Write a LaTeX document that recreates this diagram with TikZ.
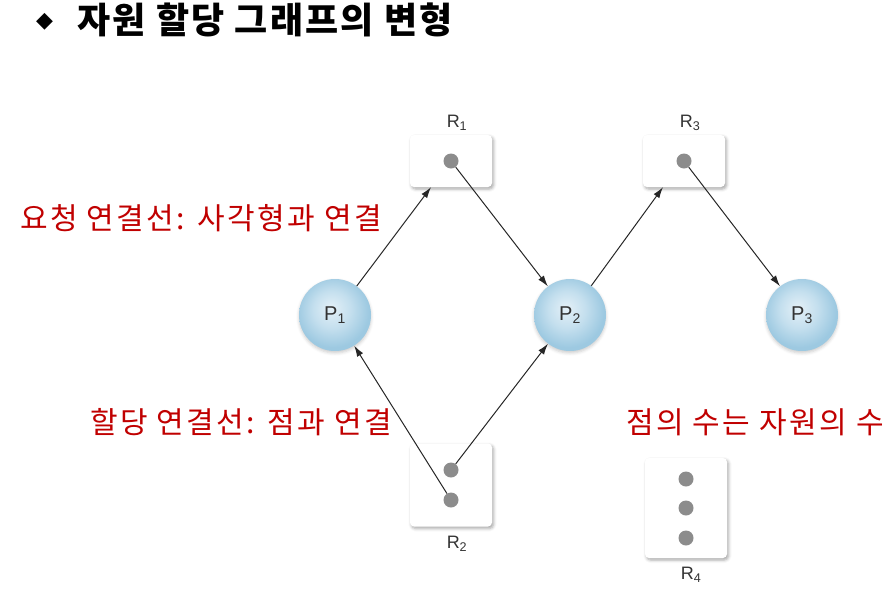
\documentclass[tikz,border=0pt]{standalone}
\usepackage{fontspec}
\setmainfont{Liberation Sans}
\newfontfamily\kofont{Noto Sans CJK KR}
\newfontfamily\kowide{Noto Sans CJK KR}[LetterSpace=8]
\newfontfamily\kotitle{Noto Sans CJK KR}[LetterSpace=6]
\newfontfamily\symfont{DejaVu Sans}
\usetikzlibrary{arrows.meta, positioning, shadows, shadows.blur}
\definecolor{notered}{HTML}{C00000}
\definecolor{ballin}{HTML}{E4F0F7}
\definecolor{ballmid}{HTML}{C4DFEE}
\definecolor{ballout}{HTML}{9DC9E1}
\definecolor{dotgray}{HTML}{8C8C8C}
\definecolor{linedark}{HTML}{262626}
\definecolor{labelgray}{HTML}{333333}
\pgfdeclareradialshading{procball}{\pgfpoint{-3bp}{5bp}}{color(0bp)=(ballin); color(13bp)=(ballmid); color(25bp)=(ballout); color(50bp)=(ballout)}
\tikzset{
  resbox/.style={fill=white, rounded corners=4pt, minimum width=82pt,
    blur shadow={shadow xshift=1.5pt, shadow yshift=-2pt, shadow blur radius=3pt, shadow opacity=35}},
  proc/.style={circle, minimum size=72pt, shading=procball, text=labelgray, font=\fontsize{20}{22}\selectfont,
    blur shadow={shadow xshift=0pt, shadow yshift=-2pt, shadow blur radius=3pt, shadow opacity=20}},
  inst/.style={circle, fill=dotgray, minimum size=15pt, inner sep=0pt},
  reslabel/.style={text=labelgray, font=\fontsize{18}{20}\selectfont, inner sep=1pt},
  note/.style={text=notered, anchor=west, inner sep=0pt, font=\kowide\fontsize{30}{32}\selectfont},
  flow/.style={draw=linedark, line width=1pt, -{Latex[length=11pt,width=7pt]}}
}

\begin{document}
\begin{tikzpicture}[x=1pt, y=-1pt]
    \useasboundingbox (0,0) rectangle (892,595);
    % title
    \node[anchor=west, inner sep=0pt, font=\symfont\fontsize{22}{24}\selectfont] (bullet) at (36,22) {◆};
    \node[anchor=west, inner sep=0pt, font=\kotitle\bfseries\fontsize{36}{38}\selectfont] (title) at (77,20) {자원 할당 그래프의 변형};
    % resources
    \node[resbox, minimum height=52pt] (r1) at (451,161) {};
    \node[inst] (r1a) at (r1.center) {};
    \node[reslabel, above=3pt of r1, xshift=6pt] (r1l) {R\textsubscript{1}};
    \node[resbox, minimum height=52pt] (r3) at (684,161) {};
    \node[inst] (r3a) at (r3.center) {};
    \node[reslabel, above=3pt of r3, xshift=6pt] (r3l) {R\textsubscript{3}};
    \node[resbox, minimum height=83pt] (r2) at (451,485) {};
    \node[inst] (r2a) at (451,470) {};
    \node[inst] (r2b) at (451,500) {};
    \node[reslabel, below=8pt of r2, xshift=6pt] (r2l) {R\textsubscript{2}};
    \node[resbox, minimum height=100pt] (r4) at (686,508) {};
    \node[inst] (r4a) at (686,479) {};
    \node[inst] (r4b) at (686,508) {};
    \node[inst] (r4c) at (686,538) {};
    \node[reslabel, below=8pt of r4, xshift=5pt] (r4l) {R\textsubscript{4}};
    % processes
    \node[proc] (p1) at (335,315) {P\textsubscript{1}};
    \node[proc] (p2) at (570,315) {P\textsubscript{2}};
    \node[proc] (p3) at (802,315) {P\textsubscript{3}};
    % edges
    \draw[flow] (p1) -- ([xshift=-20pt]r1.south);
    \draw[flow] (r1a) -- (p2);
    \draw[flow] (p2) -- ([xshift=-21pt]r3.south);
    \draw[flow] (r3a) -- (p3);
    \draw[flow] (r2b) -- (p1);
    \draw[flow] (r2a) -- (p2);
    % notes
    \node[note] (req) at (20,218) {요청 연결선: 사각형과 연결};
    \node[note] (asg) at (90,422) {할당 연결선: 점과 연결};
    \node[note] (cnt) at (626,422) {점의 수는 자원의 수};
\end{tikzpicture}
\end{document}
